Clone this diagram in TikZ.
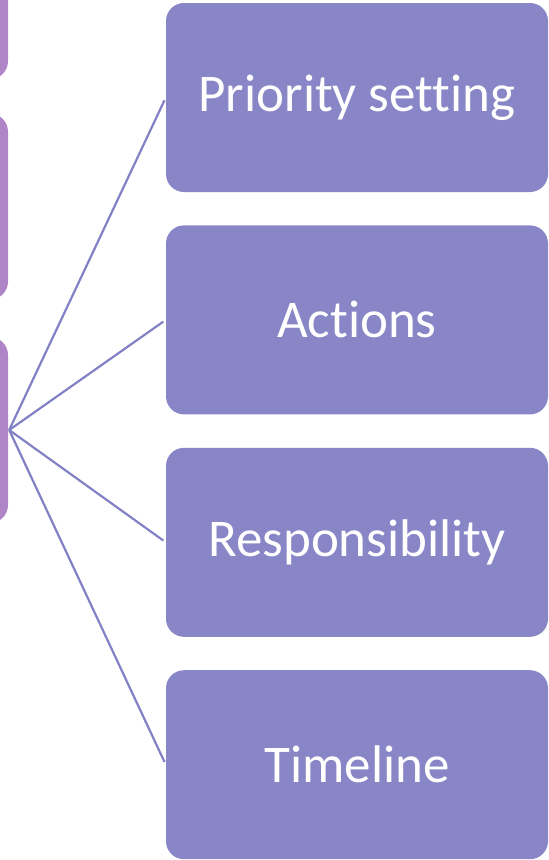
\documentclass[tikz,border=0pt]{standalone}
\usepackage{fontspec}
\setmainfont{Carlito}[RawFeature=-liga]
\usetikzlibrary{positioning}
\definecolor{topicblue}{RGB}{136,134,198}
\definecolor{levelpurple}{RGB}{176,133,200}
\definecolor{linkblue}{RGB}{131,129,197}
\tikzset{
  topic/.style  = {draw=none, fill=topicblue, rounded corners=18pt, text=white,
                   minimum width=382pt, minimum height=189pt, inner sep=0pt,
                   font=\fontsize{53}{60}\selectfont},
  level/.style  = {draw=none, fill=levelpurple, rounded corners=18pt,
                   minimum width=183pt, minimum height=186pt, inner sep=0pt},
  link/.style   = {draw=linkblue, line width=2.2pt, shorten >=3pt}
}
\begin{document}
\begin{tikzpicture}[x=1pt, y=1pt]
  \useasboundingbox (0,0) rectangle (549,-860);
  \clip (0,0) rectangle (549,-860);
  % cut-off boxes on the left
  \node[level] (lv3) at (-83.5,-430) {};
  \node[level] (lv2) [above=37pt of lv3] {};
  \node[level] (lv1) [above=34pt of lv2] {};
  % items on the right
  \node[topic] (prio) at (357,-97.5)  {Priority setting};
  \node[topic] (act)  [below=33pt of prio] {Actions};
  \node[topic] (resp) [below=33pt of act]  {Responsibility};
  \node[topic] (time) [below=33pt of resp] {Timeline};
  % fan of links
  \foreach \t in {prio,act,resp,time}
    \draw[link] ([xshift=1pt]lv3.east) -- (\t.west);
\end{tikzpicture}
\end{document}
